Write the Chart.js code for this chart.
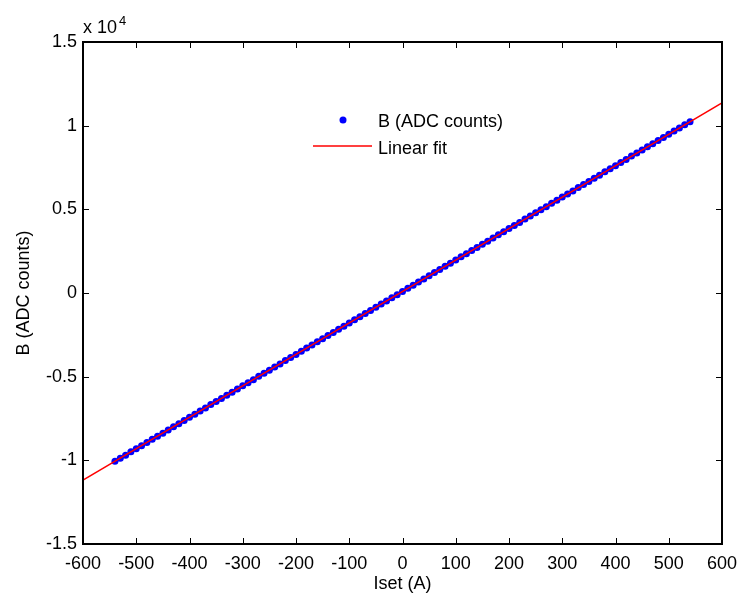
<!DOCTYPE html>
<html>
<head>
<meta charset="utf-8">
<script src="https://cdn.jsdelivr.net/npm/chart.js@4"></script>
<style>
  html, body { margin: 0; padding: 0; background: #fff; }
  #wrap { width: 740px; height: 601px; }
</style>
</head>
<body>
<div id="wrap"><canvas id="graph" width="740" height="601"></canvas></div>
<script>
// measured current set points (A)
const iset = [
  -540, -530, -520, -510, -500, -490, -480, -470, -460, -450, -440, -430, -420, -410,
  -400, -390, -380, -370, -360, -350, -340, -330, -320, -310, -300, -290, -280, -270,
  -260, -250, -240, -230, -220, -210, -200, -190, -180, -170, -160, -150, -140, -130,
  -120, -110, -100, -90, -80, -70, -60, -50, -40, -30, -20, -10, 0, 10, 20, 30, 40,
  50, 60, 70, 80, 90, 100, 110, 120, 130, 140, 150, 160, 170, 180, 190, 200, 210,
  220, 230, 240, 250, 260, 270, 280, 290, 300, 310, 320, 330, 340, 350, 360, 370,
  380, 390, 400, 410, 420, 430, 440, 450, 460, 470, 480, 490, 500, 510, 520, 530, 540
];
// B readings (ADC counts)
const adc = [
  -10060, -9880, -9690, -9490, -9310, -9130, -8930, -8740, -8560, -8380, -8180, -7990, -7810, -7620,
  -7420, -7250, -7050, -6870, -6670, -6490, -6310, -6110, -5930, -5740, -5550, -5360, -5180, -4980,
  -4800, -4610, -4420, -4240, -4040, -3860, -3670, -3480, -3290, -3110, -2910, -2730, -2540, -2360,
  -2160, -1980, -1790, -1600, -1420, -1220, -1040, -850, -660, -480, -280, -100, 90, 280, 460, 660, 840,
  1030, 1220, 1400, 1600, 1780, 1970, 2160, 2340, 2540, 2720, 2910, 3100, 3280, 3480, 3660, 3850, 4040,
  4220, 4420, 4600, 4790, 4980, 5160, 5360, 5540, 5730, 5920, 6100, 6300, 6480, 6670, 6860, 7040,
  7240, 7420, 7610, 7800, 7980, 8180, 8360, 8550, 8740, 8920, 9120, 9300, 9490, 9680, 9860, 10060, 10240
];
// linear fit end points
const fitX = [-600, 600];
const fitY = [-11180, 11360];

const xTicks = [-600, -500, -400, -300, -200, -100, 0, 100, 200, 300, 400, 500, 600];
const yTicks = [-15000, -10000, -5000, 0, 5000, 10000, 15000];

const FONT = '"Liberation Sans", Arial, sans-serif';

const matlabBox = {
  id: 'matlabBox',
  afterDatasetsDraw(chart) {
    const { ctx, chartArea: a, scales: { x, y } } = chart;
    ctx.save();
    ctx.strokeStyle = '#000';
    ctx.lineWidth = 1;
    ctx.beginPath();
    xTicks.forEach(v => {
      const px = Math.round(x.getPixelForValue(v)) + 0.5;
      ctx.moveTo(px, a.bottom); ctx.lineTo(px, a.bottom - 6);
      ctx.moveTo(px, a.top); ctx.lineTo(px, a.top + 6);
    });
    yTicks.forEach(v => {
      const py = Math.round(y.getPixelForValue(v)) + 0.5;
      ctx.moveTo(a.left, py); ctx.lineTo(a.left + 6, py);
      ctx.moveTo(a.right, py); ctx.lineTo(a.right - 6, py);
    });
    ctx.stroke();
    ctx.lineWidth = 2;
    ctx.strokeRect(a.left, a.top, a.right - a.left, a.bottom - a.top);

    // exponent
    ctx.fillStyle = '#000';
    ctx.textBaseline = 'alphabetic';
    ctx.textAlign = 'left';
    ctx.font = '18px ' + FONT;
    ctx.fillText('x 10', a.left, 33);
    ctx.font = '13px ' + FONT;
    ctx.fillText('4', a.left + 36, 25);

    // legend
    const ds = chart.data.datasets;
    ctx.font = '18px ' + FONT;
    ctx.fillStyle = ds[1].pointBackgroundColor;
    ctx.beginPath();
    ctx.arc(343, 120, 3.5, 0, Math.PI * 2);
    ctx.fill();
    ctx.fillStyle = '#000';
    ctx.fillText(ds[1].label, 378, 126.5);
    ctx.strokeStyle = ds[0].borderColor;
    ctx.lineWidth = 1.5;
    ctx.beginPath();
    ctx.moveTo(313, 146); ctx.lineTo(372, 146);
    ctx.stroke();
    ctx.fillStyle = '#000';
    ctx.fillText(ds[0].label, 378, 154);
    ctx.restore();
  }
};

new Chart(document.getElementById('graph').getContext('2d'), {
  type: 'scatter',
  data: {
    datasets: [
      {
        type: 'line',
        label: 'Linear fit',
        data: fitX.map((v, i) => ({ x: v, y: fitY[i] })),
        borderColor: '#ff0000',
        borderWidth: 1.5,
        pointRadius: 0,
        fill: false,
        order: 0
      },
      {
        label: 'B (ADC counts)',
        data: iset.map((v, i) => ({ x: v, y: adc[i] })),
        pointBackgroundColor: '#0000ff',
        pointBorderWidth: 0,
        pointRadius: 3.5,
        order: 1
      }
    ]
  },
  options: {
    responsive: false,
    animation: false,
    layout: { padding: { top: 42, right: 18, left: 0, bottom: 0 } },
    plugins: {
      legend: { display: false },
      tooltip: { enabled: false }
    },
    scales: {
      x: {
        type: 'linear',
        min: -600, max: 600,
        afterBuildTicks: s => { s.ticks = xTicks.map(v => ({ value: v })); },
        afterFit: s => { s.height = 57; s.paddingLeft = 0; s.paddingRight = 0; },
        grid: { display: false, drawTicks: false },
        border: { display: false },
        ticks: { color: '#000', font: { family: FONT, size: 18 }, padding: 9, maxRotation: 0 },
        title: { display: true, text: 'Iset (A)', color: '#000', font: { family: FONT, size: 18 }, padding: { top: 0, bottom: 6 } }
      },
      y: {
        type: 'linear',
        min: -15000, max: 15000,
        afterBuildTicks: s => { s.ticks = yTicks.map(v => ({ value: v })); },
        afterFit: s => { s.width = 83; s.paddingTop = 0; s.paddingBottom = 0; },
        grid: { display: false, drawTicks: false },
        border: { display: false },
        ticks: {
          color: '#000', font: { family: FONT, size: 18 }, padding: 6,
          callback: v => String(v / 10000)
        },
        title: { display: true, text: 'B (ADC counts)', color: '#000', font: { family: FONT, size: 18 }, padding: { top: 13, bottom: 0 } }
      }
    }
  },
  plugins: [matlabBox]
});
</script>
</body>
</html>
